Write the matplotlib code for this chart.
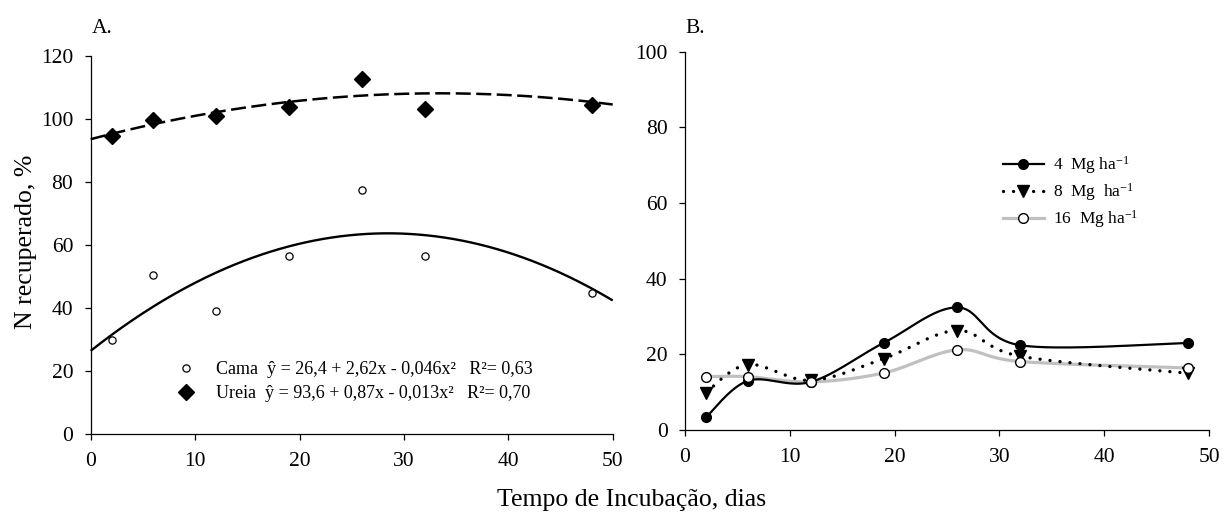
import numpy as np
import matplotlib
matplotlib.use("Agg")
import matplotlib.pyplot as plt

plt.rcParams['font.family'] = ['Liberation Serif', 'DejaVu Serif']
plt.rcParams['mathtext.fontset'] = 'custom'
plt.rcParams['mathtext.rm'] = 'Liberation Serif'
plt.rcParams['mathtext.it'] = 'Liberation Serif:italic'

# ---------------- data ----------------
dias = [2, 6, 12, 19, 26, 32, 48]

# Panel A
cama = [30.0, 50.6, 39.2, 56.4, 77.5, 56.6, 44.8]
ureia = [94.5, 99.6, 100.8, 103.8, 112.6, 103.2, 104.3]
coef_cama = [26.4, 2.62, -0.046]
coef_ureia = [93.6, 0.87, -0.013]
label_cama = "Cama  ŷ = 26,4 + 2,62x - 0,046x²   R²= 0,63"
label_ureia = "Ureia  ŷ = 93,6 + 0,87x - 0,013x²   R²= 0,70"

# Panel B
mg4 = [3.35, 13.0, 12.7, 23.1, 32.4, 22.4, 23.0]
mg8 = [9.9, 17.3, 13.1, 18.9, 26.3, 19.5, 15.0]
mg16 = [14.1, 14.1, 12.7, 15.1, 21.2, 18.1, 16.4]
labels_b = [r"4  Mg ha$^{\mathregular{-1}}$",
            r"8  Mg  ha$^{\mathregular{-1}}$",
            r"16  Mg ha$^{\mathregular{-1}}$"]

xticks = [0, 10, 20, 30, 40, 50]
yticks_a = [0, 20, 40, 60, 80, 100, 120]
yticks_b = [0, 20, 40, 60, 80, 100]


def excel_smooth(x, y, n=40):
    pts = np.column_stack([np.asarray(x, float), np.asarray(y, float)])
    out = []
    for i in range(len(pts) - 1):
        p0 = pts[i - 1] if i > 0 else pts[i]
        p1 = pts[i]
        p2 = pts[i + 1]
        p3 = pts[i + 2] if i + 2 < len(pts) else pts[i + 1]
        c1 = p1 + (p2 - p0) / 6.0
        c2 = p2 - (p3 - p1) / 6.0
        t = np.linspace(0, 1, n)[:, None]
        seg = ((1 - t) ** 3) * p1 + 3 * ((1 - t) ** 2) * t * c1 + 3 * (1 - t) * t ** 2 * c2 + t ** 3 * p2
        out.append(seg if i == 0 else seg[1:])
    return np.vstack(out)


W, H = 1227, 518
fig = plt.figure(figsize=(W / 100, H / 100), dpi=100)

axA = fig.add_axes([90.7 / W, (H - 434) / H, 522 / W, 378 / H])
axB = fig.add_axes([685 / W, (H - 430) / H, 524 / W, 378.3 / H])

for ax in (axA, axB):
    for s in ('top', 'right'):
        ax.spines[s].set_visible(False)
    for s in ('left', 'bottom'):
        ax.spines[s].set_linewidth(0.9)
    ax.tick_params(direction='out', length=4.3, width=0.9, labelsize=15.5, pad=8.3, colors='black')
    ax.set_xlim(0, 50)
    ax.set_xticks(xticks)

# ---------- Panel A ----------
xx = np.linspace(0, 50, 300)
fit_c = coef_cama[0] + coef_cama[1] * xx + coef_cama[2] * xx ** 2
fit_u = coef_ureia[0] + coef_ureia[1] * xx + coef_ureia[2] * xx ** 2
axA.plot(xx, fit_c, color='black', lw=1.7, solid_capstyle='butt', clip_on=False)
axA.plot(xx, fit_u, color='black', lw=1.8, dashes=(6.0, 2.2), clip_on=False)
hc, = axA.plot(dias, cama, ls='none', marker='o', ms=5.2, mfc='white', mec='black', mew=0.9, zorder=5)
hu, = axA.plot(dias, ureia, ls='none', marker='D', ms=7.8, mfc='black', mec='black', zorder=5)
axA.set_ylim(0, 120)
axA.set_yticks(yticks_a)
axA.legend([hc, hu], [label_cama, label_ureia], loc='upper left',
           bbox_to_anchor=(0.165, 0.193), frameon=False, fontsize=13,
           handlelength=1.0, handletextpad=1.15, labelspacing=0.38,
           borderpad=0, borderaxespad=0, numpoints=1)

# ---------- Panel B ----------
c4 = excel_smooth(dias, mg4)
c8 = excel_smooth(dias, mg8)
c16 = excel_smooth(dias, mg16)
l16, = axB.plot(c16[:, 0], c16[:, 1], color='#c0c0c0', lw=2.3, zorder=2)
l8, = axB.plot(c8[:, 0], c8[:, 1], color='black', lw=2.4, dashes=(0.01, 3.0),
               dash_capstyle='round', zorder=3)
l4, = axB.plot(c4[:, 0], c4[:, 1], color='black', lw=1.6, zorder=4)
m4, = axB.plot(dias, mg4, ls='none', marker='o', ms=7, mfc='black', mec='black', zorder=6)
m8, = axB.plot(dias, mg8, ls='none', marker='v', ms=8, mfc='black', mec='black', zorder=6)
m16, = axB.plot(dias, mg16, ls='none', marker='o', ms=7, mfc='white', mec='black', mew=1.0, zorder=7)
axB.set_ylim(0, 100)
axB.set_yticks(yticks_b)
axB.legend([(l4, m4), (l8, m8), (l16, m16)], labels_b, loc='upper left',
           bbox_to_anchor=(0.607, 0.728), frameon=False, fontsize=12.5,
           handlelength=2.35, handletextpad=0.5, labelspacing=0.28,
           borderpad=0, borderaxespad=0, numpoints=1)

# ---------- figure texts ----------
fig.text(92 / W, 1 - 33 / H, 'A.', fontsize=15.5, va='baseline', ha='left')
fig.text(685 / W, 1 - 33 / H, 'B.', fontsize=15.5, va='baseline', ha='left')
fig.text(26 / W, 1 - 242 / H, 'N recuperado, %', rotation=90, fontsize=18.5,
         ha='center', va='center')
fig.text(632 / W, 1 - 506 / H, 'Tempo de Incubação, dias', fontsize=18.5,
         ha='center', va='baseline')

fig.savefig('out.png', dpi=100)
